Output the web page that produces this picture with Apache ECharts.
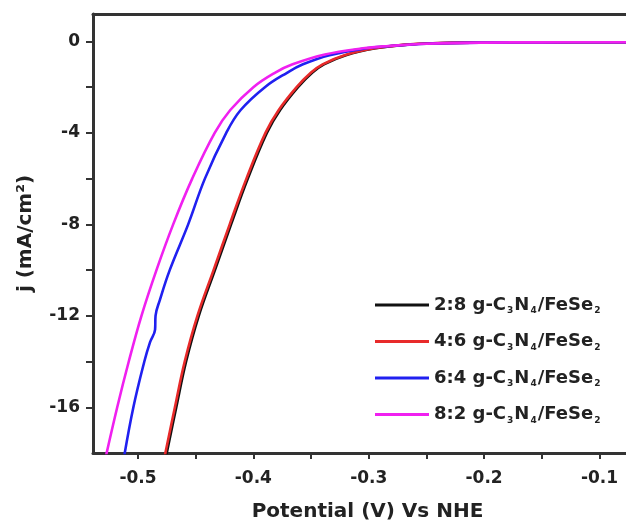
<!DOCTYPE html>
<html><head><meta charset="utf-8">
<script src="https://cdn.jsdelivr.net/npm/echarts@6/dist/echarts.min.js"></script>
<style>html,body{margin:0;padding:0;background:#fff}#c{width:626px;height:527px}</style>
</head><body><div id="c"></div>
<script>
const seriesNames = ['2:8', '4:6', '6:4', '8:2'];
const seriesColors = ['#111111', '#e82a2a', '#2020f0', '#f020f0'];
// [potential (V vs NHE), j (mA/cm2)]
const data28 = [[-0.4763,-18.3],[-0.4668,-16],[-0.4583,-14],[-0.4473,-12],[-0.4333,-10],[-0.4193,-8],[-0.4048,-6],[-0.3883,-4],[-0.3768,-3],[-0.3613,-2],[-0.3488,-1.36],[-0.3388,-1],[-0.3198,-0.6],[-0.294,-0.3],[-0.269,-0.15],[-0.244,-0.08],[-0.2,-0.05],[-0.15,-0.04],[-0.07,-0.035]];
const data46 = [[-0.4775,-18.3],[-0.468,-16],[-0.4595,-14],[-0.4485,-12],[-0.4345,-10],[-0.4205,-8],[-0.406,-6],[-0.3895,-4],[-0.378,-3],[-0.3625,-2],[-0.350,-1.36],[-0.340,-1],[-0.321,-0.6],[-0.295,-0.3],[-0.27,-0.15],[-0.245,-0.08],[-0.2,-0.05],[-0.15,-0.04],[-0.07,-0.035]];
const data64 = [[-0.5125,-18.3],[-0.504,-16],[-0.4945,-14],[-0.4896,-13.16],[-0.4852,-12.6],[-0.4848,-12.0],[-0.481,-11.3],[-0.4725,-10],[-0.4565,-8],[-0.442,-6],[-0.4235,-4],[-0.411,-3],[-0.390,-2],[-0.3705,-1.36],[-0.357,-1],[-0.334,-0.6],[-0.302,-0.3],[-0.281,-0.2],[-0.25,-0.1],[-0.2,-0.05],[-0.15,-0.04],[-0.07,-0.035]];
const data82 = [[-0.5285,-18.3],[-0.518,-16],[-0.508,-14],[-0.497,-12],[-0.484,-10],[-0.4695,-8],[-0.453,-6],[-0.4335,-4],[-0.420,-3],[-0.400,-2],[-0.381,-1.36],[-0.366,-1],[-0.338,-0.57],[-0.305,-0.3],[-0.283,-0.2],[-0.25,-0.1],[-0.2,-0.05],[-0.15,-0.04],[-0.07,-0.035]];
const xTicks = [-0.5,-0.45,-0.4,-0.35,-0.3,-0.25,-0.2,-0.15,-0.1];
const xLabels = [-0.5,-0.4,-0.3,-0.2,-0.1];
const yTicks = [-16,-14,-12,-10,-8,-6,-4,-2,0];
const yLabels = [-16,-12,-8,-4,0];

const chart = echarts.init(document.getElementById('c'), null, {renderer:'canvas'});
const axisColor = '#333';
const font = '"DejaVu Sans", Arial, sans-serif';
const txt = '#222';
const allData = [data28, data46, data64, data82];
chart.setOption({
  animation: false,
  backgroundColor: '#fff',
  textStyle: {fontFamily: font},
  grid: {left: 93, top: 14, right: 0, bottom: 74, containLabel: false},
  legend: {
    orient: 'vertical', left: 370, top: 291, itemGap: 17,
    itemWidth: 54, itemHeight: 3, icon: 'rect',
    data: seriesNames,
    formatter: function(n){ return '{t|' + n + ' g-C}{s|3}{t|N}{s|4}{t|/FeSe}{s|2}'; },
    textStyle: {
      fontFamily: font, fontWeight: 'bold', color: txt,
      rich: {
        t: {fontSize: 18, fontWeight: 'bold', fontFamily: font, color: txt},
        s: {fontSize: 9, fontWeight: 'bold', fontFamily: font, color: txt, padding: [12,1,0,1]}
      }
    }
  },
  xAxis: [{
    type: 'value', min: -0.539, max: -0.077, position: 'bottom',
    name: 'Potential (V) Vs NHE', nameLocation: 'middle', nameGap: 49,
    nameTextStyle: {fontSize: 20, fontWeight: 'bold', color: txt, fontFamily: font, padding: [0,0,0,16]},
    axisLine: {show: true, onZero: false, lineStyle: {color: axisColor, width: 3}},
    axisTick: {show: true, inside: false, length: 6, customValues: xTicks, lineStyle: {color: axisColor, width: 2}},
    axisLabel: {customValues: xLabels, fontSize: 17, fontWeight: 'bold', color: txt, margin: 17, fontFamily: font,
      formatter: v => String(Math.round(v*10)/10)},
    splitLine: {show: false}
  }, {
    type: 'value', min: -0.539, max: -0.077, position: 'top',
    axisLine: {show: true, onZero: false, lineStyle: {color: axisColor, width: 3}},
    axisTick: {show: false}, axisLabel: {show: false}, splitLine: {show: false}
  }],
  yAxis: {
    type: 'value', min: -18, max: 1.2,
    name: 'j (mA/cm²)', nameLocation: 'middle', nameGap: 57, nameRotate: 90,
    nameTextStyle: {fontSize: 20, fontWeight: 'bold', color: txt, fontFamily: font},
    axisLine: {show: true, onZero: false, lineStyle: {color: axisColor, width: 3}},
    axisTick: {show: true, inside: false, length: 7, customValues: yTicks, lineStyle: {color: axisColor, width: 2}},
    axisLabel: {customValues: yLabels, fontSize: 17, fontWeight: 'bold', color: txt, margin: 13, fontFamily: font},
    splitLine: {show: false}
  },
  series: allData.map((d, i) => ({
    name: seriesNames[i], type: 'line', data: d, xAxisIndex: 0,
    smooth: 0.4, showSymbol: false, clip: true,
    lineStyle: {color: seriesColors[i], width: 2.6},
    itemStyle: {color: seriesColors[i]},
    z: 2 + i
  }))
});
</script></body></html>
